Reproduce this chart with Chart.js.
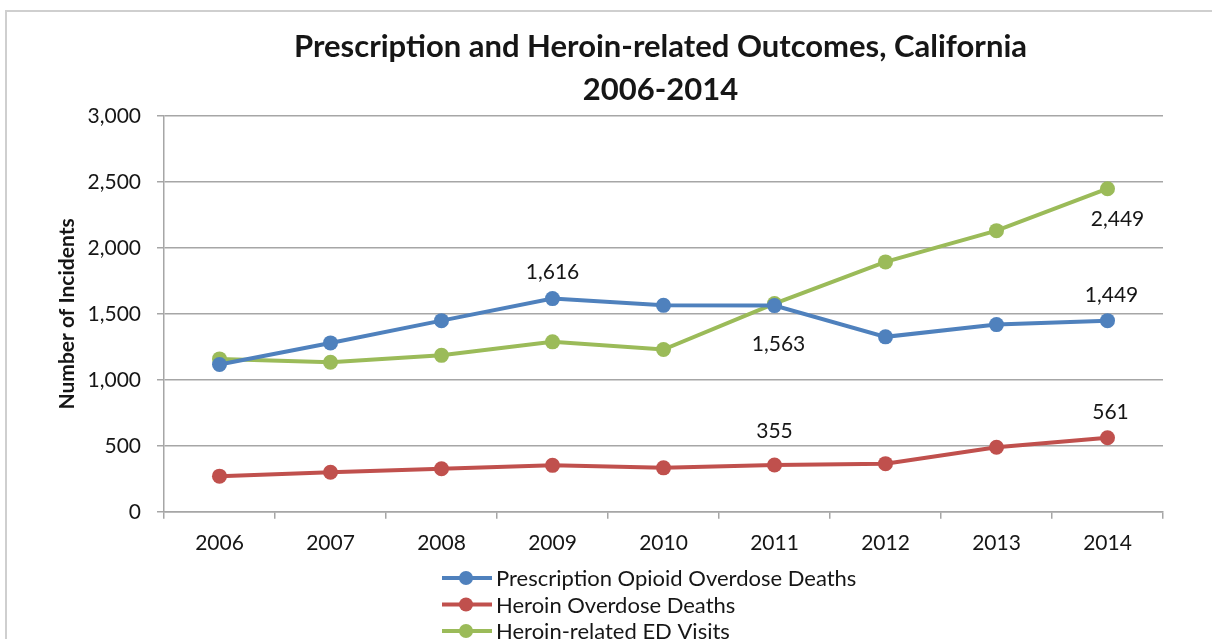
<!DOCTYPE html>
<html>
<head>
<meta charset="utf-8">
<script src="https://cdn.jsdelivr.net/npm/chart.js@4.4.0/dist/chart.umd.min.js"></script>
<style>
  html, body { margin: 0; padding: 0; background: #fff; }
  #wrap { width: 1212px; height: 639px; }
</style>
</head>
<body>
<div id="wrap"><canvas id="outcomesChart"></canvas></div>
<script>
var years = ['2006', '2007', '2008', '2009', '2010', '2011', '2012', '2013', '2014'];
var rxDeaths = [1116, 1280, 1449, 1616, 1565, 1563, 1326, 1419, 1449];
var heroinDeaths = [270, 300, 326, 352, 333, 355, 365, 489, 561];
var heroinVisits = [1159, 1133, 1186, 1288, 1230, 1578, 1894, 2131, 2449];
var yMin = 0, yMax = 3000, yStep = 500;

var titleLines = ['Prescription and Heroin-related Outcomes, California', '2006-2014'];

// which points carry a value label, and where it sits relative to the point
var valueLabels = [
    { ds: 0, i: 3, dx: 0, dy: -26 },
    { ds: 0, i: 5, dx: 4, dy: 39 },
    { ds: 0, i: 8, dx: 4, dy: -25 },
    { ds: 1, i: 5, dx: 0, dy: -34 },
    { ds: 1, i: 8, dx: 3, dy: -26 },
    { ds: 2, i: 8, dx: 10, dy: 31 }
];

var FONT = 'Lato, "Open Sans", sans-serif';
var textColor = '#161616';
var gridColor = '#a6a6a6';

function fmt(v) { return Number(v).toLocaleString('en-US'); }

var extras = {
    id: 'extras',
    beforeDraw: function (chart) {
        var c = chart.ctx;
        c.save();
        c.strokeStyle = '#cfcfcf';
        c.lineWidth = 2;
        c.beginPath();
        c.moveTo(6, chart.height);
        c.lineTo(6, 11);
        c.lineTo(chart.width, 11);
        c.stroke();
        c.restore();
    },
    afterDraw: function (chart) {
        var c = chart.ctx;
        var area = chart.chartArea;
        c.save();

        // title
        c.fillStyle = textColor;
        c.textAlign = 'center';
        c.textBaseline = 'middle';
        c.font = 'bold 31px ' + FONT;
        var cx = (area.left + area.right) / 2 - 3;
        c.fillText(titleLines[0], cx, 47);
        c.fillText(titleLines[1], cx, 90);

        // value labels
        c.font = '21px ' + FONT;
        valueLabels.forEach(function (l) {
            var pt = chart.getDatasetMeta(l.ds).data[l.i];
            var v = chart.data.datasets[l.ds].data[l.i];
            c.fillText(fmt(v), pt.x + l.dx, pt.y + l.dy);
        });

        // legend, stacked
        c.textAlign = 'left';
        c.font = '22px ' + FONT;
        chart.data.datasets.forEach(function (ds, k) {
            var y = 578 + k * 26.5;
            c.strokeStyle = ds.borderColor;
            c.lineWidth = 4;
            c.beginPath();
            c.moveTo(442, y);
            c.lineTo(492, y);
            c.stroke();
            c.fillStyle = ds.borderColor;
            c.beginPath();
            c.arc(466, y, 7, 0, Math.PI * 2);
            c.fill();
            c.fillStyle = textColor;
            c.fillText(ds.label, 496, y + 1);
        });
        c.restore();
    }
};

function series(label, data, color) {
    return {
        label: label,
        data: data,
        borderColor: color,
        backgroundColor: color,
        borderWidth: 4,
        pointRadius: 7.5,
        pointHoverRadius: 7.5,
        pointBackgroundColor: color,
        pointBorderWidth: 0,
        tension: 0
    };
}

var ctx = document.getElementById('outcomesChart').getContext('2d');
var chart = new Chart(ctx, {
    type: 'line',
    data: {
        labels: years,
        datasets: [
            series('Prescription Opioid Overdose Deaths', rxDeaths, '#4f81bd'),
            series('Heroin Overdose Deaths', heroinDeaths, '#c0504d'),
            series('Heroin-related ED Visits', heroinVisits, '#9bbb59')
        ]
    },
    options: {
        responsive: true,
        maintainAspectRatio: false,
        animation: false,
        layout: { padding: { top: 116, left: 50, right: 49, bottom: 71 } },
        plugins: {
            legend: { display: false },
            title: { display: false },
            tooltip: { enabled: false }
        },
        scales: {
            x: {
                offset: true,
                grid: { offset: true, drawOnChartArea: false, tickLength: 7, color: gridColor, lineWidth: 1.5 },
                border: { color: gridColor, width: 1.5 },
                ticks: { color: textColor, font: { family: FONT, size: 21 }, padding: 12 }
            },
            y: {
                min: yMin,
                max: yMax,
                afterFit: function (scale) { scale.width = 114; },
                grid: { color: gridColor, lineWidth: 1.5, tickLength: 7 },
                border: { color: gridColor, width: 1.5 },
                ticks: {
                    stepSize: yStep,
                    color: textColor,
                    font: { family: FONT, size: 21 },
                    padding: 16,
                    callback: function (v) { return fmt(v); }
                },
                title: {
                    display: true,
                    text: 'Number of Incidents',
                    color: textColor,
                    font: { family: FONT, size: 21, weight: 'bold' },
                    padding: { top: 5, bottom: 0 }
                }
            }
        }
    },
    plugins: [extras]
});
</script>
</body>
</html>
